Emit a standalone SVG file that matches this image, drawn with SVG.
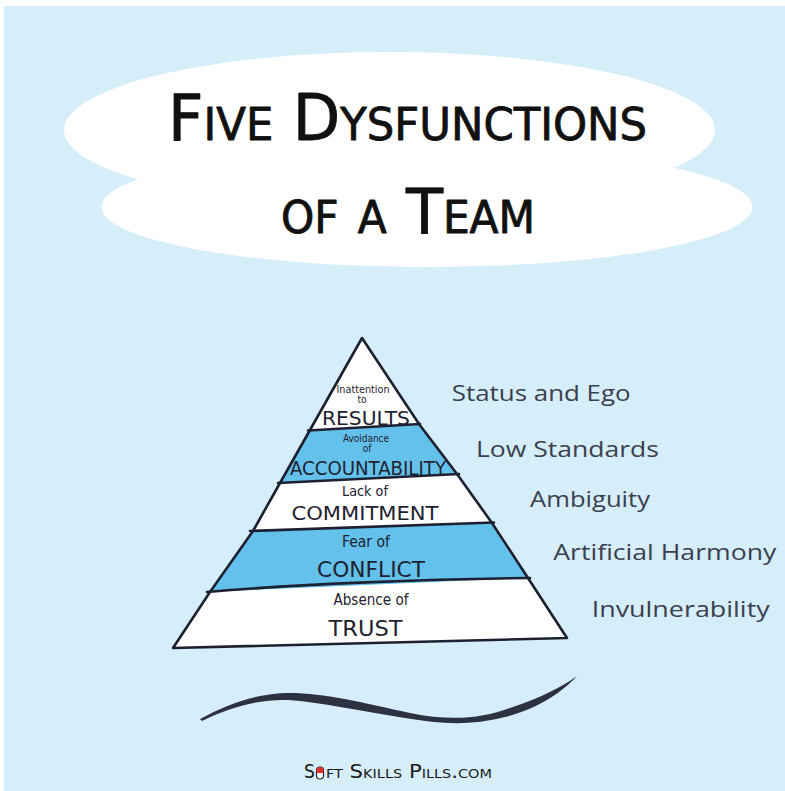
<svg xmlns="http://www.w3.org/2000/svg" width="785" height="791" viewBox="0 0 785 791">
<style>
.band-w{fill:#ffffff}
.band-b{fill:#63c1ec}
.edge{fill:none;stroke:#1d2030;stroke-width:2.6;stroke-linecap:round;stroke-linejoin:round}
.hand{font-family:"Liberation Sans Narrow","DejaVu Sans Condensed","Liberation Sans",sans-serif;fill:#1f2230;text-anchor:middle}
.lbl{font-family:"Open Sans","Noto Sans","Liberation Sans",sans-serif;font-size:22px;fill:#3b3f4e}
.title{font-family:"Liberation Sans Narrow","DejaVu Sans Condensed","Liberation Sans",sans-serif;font-weight:normal;font-variant:small-caps;fill:#111111;stroke:#111111;stroke-width:0.8;stroke-linejoin:round}
.foot{font-family:"Liberation Sans Narrow","DejaVu Sans Condensed","Liberation Sans",sans-serif;font-weight:normal;font-variant:small-caps;fill:#1a1a1a}
</style>
<rect x="0" y="0" width="785" height="791" fill="#ffffff"/>
<rect x="4" y="6" width="781" height="785" fill="#d6edfa"/>

<g id="title-cloud">
  <ellipse cx="389.5" cy="130" rx="325.5" ry="78" fill="#ffffff"/>
  <ellipse cx="427" cy="207" rx="325.5" ry="60" fill="#ffffff"/>
  <text class="title" x="168" y="140" font-size="64" textLength="479" lengthAdjust="spacingAndGlyphs">Five Dysfunctions</text>
  <text class="title" x="281" y="233" font-size="63" textLength="254" lengthAdjust="spacingAndGlyphs">of a Team</text>
</g>

<g id="results">
  <polygon class="band-w" points="362,338 419,424 310,430"/>
  <text class="hand" x="363" y="393" font-size="10" textLength="53" lengthAdjust="spacingAndGlyphs">Inattention</text>
  <text class="hand" x="362" y="403" font-size="10">to</text>
  <text class="hand" x="366" y="425" font-size="19" textLength="88" lengthAdjust="spacingAndGlyphs">RESULTS</text>
</g>
<g id="accountability">
  <polygon class="band-b" points="310,430 419,424 457,474 280,483"/>
  <text class="hand" x="366" y="442" font-size="10" textLength="46" lengthAdjust="spacingAndGlyphs">Avoidance</text>
  <text class="hand" x="367" y="452" font-size="10">of</text>
  <text class="hand" x="368" y="475" font-size="20" textLength="156" lengthAdjust="spacingAndGlyphs">ACCOUNTABILITY</text>
</g>
<g id="commitment">
  <polygon class="band-w" points="280,483 457,474 492,523 253,531"/>
  <text class="hand" x="365" y="496" font-size="14" textLength="46" lengthAdjust="spacingAndGlyphs">Lack of</text>
  <text class="hand" x="365" y="520" font-size="20" textLength="147" lengthAdjust="spacingAndGlyphs">COMMITMENT</text>
</g>
<g id="conflict">
  <polygon class="band-b" points="253,531 492,523 528,578 210,592"/>
  <text class="hand" x="366" y="547" font-size="15" textLength="48" lengthAdjust="spacingAndGlyphs">Fear of</text>
  <text class="hand" x="371" y="577" font-size="22" textLength="108" lengthAdjust="spacingAndGlyphs">CONFLICT</text>
</g>
<g id="trust">
  <polygon class="band-w" points="210,592 528,578 567,638 173,648"/>
  <text class="hand" x="371" y="605" font-size="15" textLength="75" lengthAdjust="spacingAndGlyphs">Absence of</text>
  <text class="hand" x="365.5" y="636" font-size="22" textLength="74" lengthAdjust="spacingAndGlyphs">TRUST</text>
</g>

<g id="connectors">
  <path class="edge" d="M362,338 L310,430 L280,483 L253,531 L210,592 L173,648 L567,638 L528,578 L492,523 L457,474 L419,424 Z"/>
  <path class="edge" d="M308,430.5 L420,424"/>
  <path class="edge" d="M278,483 L459,474"/>
  <path class="edge" d="M250,531 L494,522.5"/>
  <path class="edge" d="M207,592 C300,584 430,579 530,578"/>
</g>

<g id="labels">
  <text class="lbl" x="451.7" y="400.7" textLength="179" lengthAdjust="spacingAndGlyphs">Status and Ego</text>
  <text class="lbl" x="476" y="457.3" textLength="183" lengthAdjust="spacingAndGlyphs">Low Standards</text>
  <text class="lbl" x="530" y="507.3" textLength="120" lengthAdjust="spacingAndGlyphs">Ambiguity</text>
  <text class="lbl" x="553.3" y="560" textLength="223" lengthAdjust="spacingAndGlyphs">Artificial Harmony</text>
  <text class="lbl" x="591.7" y="616.7" textLength="178" lengthAdjust="spacingAndGlyphs">Invulnerability</text>
</g>

<g id="swoosh">
  <path fill="#2e3142" d="M200,719 C225,705 255,694 285,693 C320,692 360,702 410,713 C450,721 480,719 510,708 C540,698 560,688 577,676 C562,692 540,708 505,717 C470,726 440,724 405,718 C360,711 320,702 288,700 C258,699 228,708 202,721 Z"/>
</g>

<g id="footer">
  <text class="foot" x="304" y="778" font-size="19">S</text>
  <rect x="316.5" y="767" width="7" height="12" rx="3.5" fill="#ffffff" stroke="#1f2230" stroke-width="1.2"/>
  <path d="M316.5,773 L316.5,770.5 A3.5,3.5 0 0 1 323.5,770.5 L323.5,773 Z" fill="#e0312d"/>
  <text class="foot" x="326" y="778" font-size="19" textLength="166" lengthAdjust="spacingAndGlyphs">ft Skills Pills.com</text>
</g>
</svg>
